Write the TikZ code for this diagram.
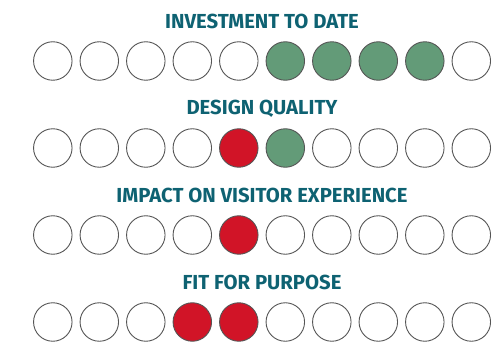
\documentclass[tikz,border=0pt]{standalone}
\usepackage{fontspec}
\setmainfont{Fira Sans}
\definecolor{teal}{HTML}{0E6272}
\definecolor{dgreen}{HTML}{639B78}
\definecolor{dred}{HTML}{D11427}
\definecolor{ring}{HTML}{555555}
\begin{document}
\begin{tikzpicture}[x=1pt,y=1pt,
  dot/.style={circle,draw=ring,line width=0.9pt,minimum size=38.5pt,inner sep=0pt,fill=white},
  gdot/.style={dot,fill=dgreen},
  rdot/.style={dot,fill=dred},
  ttl/.style={font=\fontsize{20.3}{22}\selectfont\bfseries,text=teal,inner sep=0pt}]
\useasboundingbox (0,0) rectangle (502,345);
\foreach \r/\yc/\ty/\txt/\fills in {
  1/61/21.5/{INVESTMENT TO DATE}/{dot,dot,dot,dot,dot,gdot,gdot,gdot,gdot,dot},
  2/148/108.5/{DESIGN QUALITY}/{dot,dot,dot,dot,rdot,gdot,dot,dot,dot,dot},
  3/235/195.5/{IMPACT ON VISITOR EXPERIENCE}/{dot,dot,dot,dot,rdot,dot,dot,dot,dot,dot},
  4/322/282.5/{FIT FOR PURPOSE}/{dot,dot,dot,rdot,rdot,dot,dot,dot,dot,dot}} {
  \node[ttl] (t\r) at (262,345-\ty) {\txt};
  \foreach \st [count=\i from 0] in \fills {
    \node[\st] (c\r-\i) at (52.8+46.5*\i,345-\yc) {};
  }
}
\end{tikzpicture}
\end{document}
